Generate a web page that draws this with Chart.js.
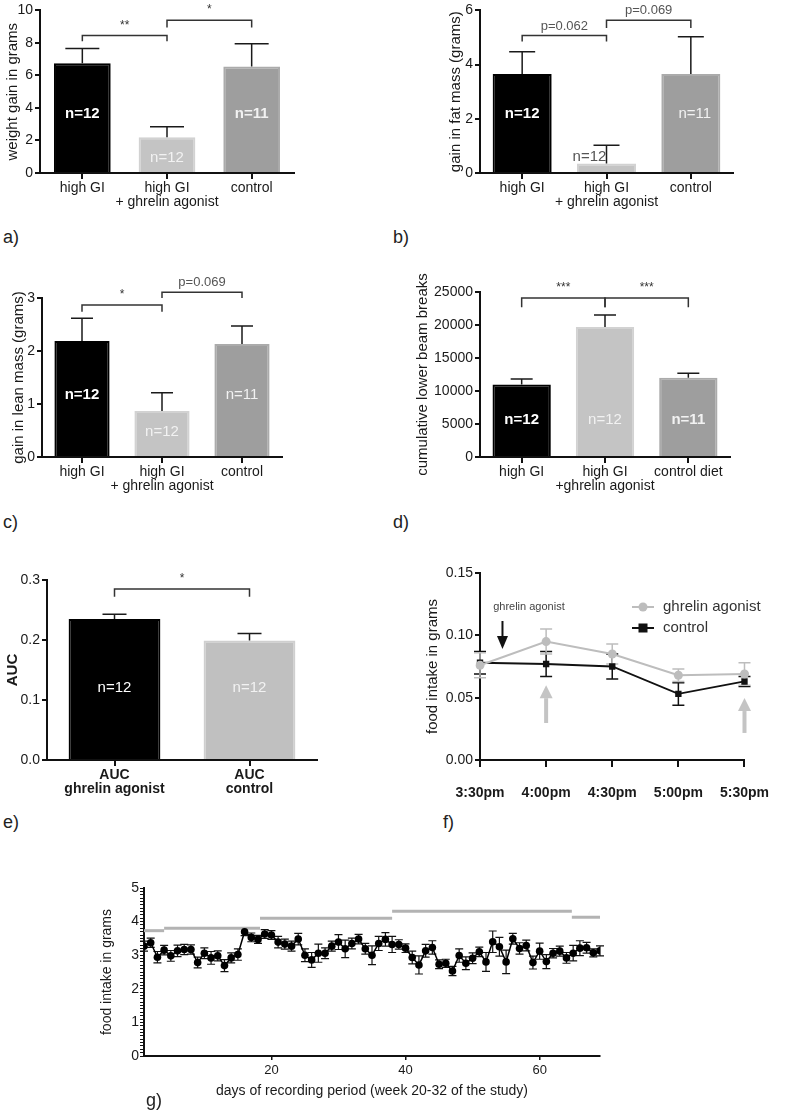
<!DOCTYPE html>
<html>
<head>
<meta charset="utf-8">
<script src="https://cdn.jsdelivr.net/npm/chart.js@4.4.0/dist/chart.umd.min.js"></script>
<style>
  body { margin: 0; background: #fff; width: 787px; height: 1114px; position: relative; overflow: hidden; font-family: "Liberation Sans", Arial, sans-serif; }
  canvas { position: absolute; }
  .tag { position: absolute; font-size: 18px; color: #222; }
</style>
</head>
<body>
<canvas id="ca"></canvas>
<canvas id="cb"></canvas>
<canvas id="cc"></canvas>
<canvas id="cd"></canvas>
<canvas id="ce"></canvas>
<canvas id="cf"></canvas>
<canvas id="cg"></canvas>
<div class="tag" style="left:3px;top:227px">a)</div>
<div class="tag" style="left:393px;top:227px">b)</div>
<div class="tag" style="left:3px;top:512px">c)</div>
<div class="tag" style="left:393px;top:512px">d)</div>
<div class="tag" style="left:3px;top:812px">e)</div>
<div class="tag" style="left:443px;top:812px">f)</div>
<div class="tag" style="left:146px;top:1090px">g)</div>
<script>
// ---- data ----
const groups3 = ['high GI', ['high GI', '+ ghrelin agonist'], 'control'];
const groupsD = ['high GI', ['high GI', '+ghrelin agonist'], 'control diet'];
const groupsE = [['AUC', 'ghrelin agonist'], ['AUC', 'control']];

const weightGain = [6.75, 2.2, 6.55];
const weightGainErr = [0.9, 0.65, 1.4];
const weightTicks = { max: 10, step: 2, digits: 0 };

const fatGain = [3.65, 0.35, 3.65];
const fatGainErr = [0.82, 0.67, 1.38];
const fatTicks = { max: 6, step: 2, digits: 0 };

const leanGain = [2.19, 0.87, 2.13];
const leanGainErr = [0.43, 0.34, 0.34];
const leanTicks = { max: 3, step: 1, digits: 0 };

const beamBreaks = [11000, 19700, 12000];
const beamBreaksErr = [800, 1800, 700];
const beamTicks = { max: 25000, step: 5000, digits: 0 };

const auc = [0.235, 0.199];
const aucErr = [0.008, 0.012];
const aucTicks = { max: 0.3, step: 0.1, digits: 1 };

const nA = ['n=12', 'n=12', 'n=11'];
const nE = ['n=12', 'n=12'];

const times = ['3:30pm', '4:00pm', '4:30pm', '5:00pm', '5:30pm'];
const agonistIntake = [0.076, 0.095, 0.085, 0.068, 0.069];
const agonistErr = [0.010, 0.010, 0.008, 0.005, 0.009];
const controlIntake = [0.078, 0.077, 0.075, 0.053, 0.063];
const controlErr = [0.009, 0.010, 0.010, 0.009, 0.004];
const fTicks = { max: 0.15, step: 0.05 };

const days = [1,2,3,4,5,6,7,8,9,10,11,12,13,14,15,16,17,18,19,20,21,22,23,24,25,26,27,28,29,30,31,32,33,34,35,
  36,37,38,39,40,41,42,43,44,45,46,47,48,49,50,51,52,53,54,55,56,57,58,59,60,61,62,63,64,65,66,67,68,69];
const dailyIntake = [3.27,3.37,2.94,3.15,2.98,3.13,3.17,3.17,2.78,3.06,2.92,2.98,2.69,2.92,3.02,3.70,3.53,3.47,3.63,3.60,
  3.39,3.33,3.27,3.48,3.00,2.86,3.06,3.06,3.27,3.39,3.19,3.35,3.48,3.19,3.00,3.35,3.47,3.32,3.32,3.21,
  2.93,2.71,3.13,3.23,2.73,2.76,2.53,2.99,2.76,2.91,3.10,2.80,3.40,3.25,2.80,3.49,3.20,3.29,2.78,3.12,
  2.81,3.06,3.12,2.92,3.06,3.21,3.22,3.07,3.13];
const dailyErr = [0.15,0.14,0.17,0.14,0.16,0.17,0.15,0.14,0.16,0.16,0.19,0.15,0.18,0.15,0.17,0.12,0.13,0.12,0.13,0.13,
  0.17,0.15,0.15,0.17,0.19,0.22,0.27,0.16,0.15,0.22,0.26,0.16,0.14,0.16,0.28,0.21,0.20,0.24,0.14,0.13,
  0.19,0.27,0.19,0.20,0.13,0.12,0.14,0.20,0.19,0.16,0.14,0.28,0.32,0.28,0.35,0.16,0.17,0.16,0.19,0.24,
  0.21,0.14,0.15,0.16,0.23,0.22,0.16,0.12,0.15];
const segStart = [1, 4, 18.3, 38, 64.8];
const segEnd = [4, 18.3, 38, 64.8, 69];
const segLevel = [3.73, 3.80, 4.10, 4.31, 4.13];
const gXTicks = [20, 40, 60];

// ---- common ----
Chart.defaults.font.family = '"Liberation Sans", Arial, sans-serif';
Chart.defaults.color = '#1a1a1a';
const FONT = '"Liberation Sans", Arial, sans-serif';

function place(id, r) {
  const c = document.getElementById(id);
  c.width = r[2]; c.height = r[3];
  c.style.left = r[0] + 'px'; c.style.top = r[1] + 'px';
  return c;
}
function frame(r, p) {
  return {
    pad: { top: p[1] - r[1], right: r[0] + r[2] - p[2], left: 0, bottom: 0 },
    yW: p[0] - r[0],
    xH: r[1] + r[3] - p[3]
  };
}

function drawBracket(ctx, x1, x2, yl, yd, text) {
  ctx.strokeStyle = '#333'; ctx.lineWidth = 1.5;
  ctx.beginPath();
  ctx.moveTo(x1, yd); ctx.lineTo(x1, yl); ctx.lineTo(x2, yl); ctx.lineTo(x2, yd);
  ctx.stroke();
  const isP = text.startsWith('p');
  ctx.font = (isP ? '13px ' : '12px ') + FONT;
  ctx.fillStyle = isP ? '#555' : '#333';
  ctx.textAlign = 'center'; ctx.textBaseline = 'bottom';
  ctx.fillText(text, (x1 + x2) / 2, yl - (isP ? 3 : 4));
}

function barMarks(p) {
  return {
    id: 'barMarks',
    afterDatasetsDraw(chart) {
      const { ctx, scales: { x, y } } = chart;
      ctx.save();
      ctx.strokeStyle = '#1a1a1a'; ctx.lineWidth = 1.5;
      p.means.forEach((m, i) => {
        const cx = x.getPixelForValue(i);
        const top = y.getPixelForValue(m), hi = y.getPixelForValue(m + p.errs[i]);
        ctx.beginPath();
        ctx.moveTo(cx, top); ctx.lineTo(cx, hi);
        ctx.moveTo(cx - p.cap, hi); ctx.lineTo(cx + p.cap, hi);
        ctx.stroke();
      });
      ctx.textAlign = 'center'; ctx.textBaseline = 'middle';
      p.nText.forEach((t, i) => {
        ctx.font = (p.nBold[i] ? 'bold ' : '') + '15px ' + FONT;
        ctx.fillStyle = p.nColor[i];
        ctx.fillText(t, x.getPixelForValue(i) + (p.nShift ? p.nShift[i] : 0), y.getPixelForValue(p.nY[i]));
      });
      p.brackets.forEach(b => {
        drawBracket(ctx, x.getPixelForValue(b.from), x.getPixelForValue(b.to),
          y.getPixelForValue(b.y), y.getPixelForValue(b.drop), b.text);
      });
      ctx.restore();
    }
  };
}

function barPanel(id, rect, plot, p) {
  const fr = frame(rect, plot);
  const tickFont = { size: 14, weight: p.boldTicks ? 'bold' : 'normal', lineHeight: 1.0 };
  new Chart(place(id, rect), {
    type: 'bar',
    data: {
      labels: p.labels,
      datasets: [{
        data: p.means,
        backgroundColor: p.colors,
        borderColor: p.borders,
        borderWidth: 2,
        barPercentage: p.barPct,
        categoryPercentage: 1
      }]
    },
    options: {
      responsive: false, animation: false, events: [],
      layout: { autoPadding: false, padding: fr.pad },
      plugins: { legend: { display: false }, tooltip: { enabled: false } },
      scales: {
        x: {
          grid: { drawOnChartArea: false, offset: false, tickLength: 6, color: '#111', lineWidth: 2 },
          border: { color: '#111', width: 2 },
          ticks: { color: '#1a1a1a', font: tickFont, padding: 2, maxRotation: 0, autoSkip: false },
          afterFit: s => { s.height = fr.xH; }
        },
        y: {
          min: 0, max: p.ticks.max,
          ticks: { stepSize: p.ticks.step, color: '#1a1a1a', font: { size: 14 }, padding: 2,
            callback: v => v.toFixed(p.ticks.digits) },
          grid: { drawOnChartArea: false, tickLength: 5, color: '#111', lineWidth: 2 },
          border: { color: '#111', width: 2 },
          title: { display: true, text: p.title, color: '#1a1a1a', font: { size: 15, weight: p.boldTitle ? 'bold' : 'normal' } },
          afterFit: s => { s.width = fr.yW; }
        }
      }
    },
    plugins: [barMarks(p)]
  });
}

const col3 = ['#000', '#c4c4c4', '#9e9e9e'];
const bor3 = ['#000', '#d2d2d2', '#ababab'];

// a)
barPanel('ca', [0, 0, 300, 215], [40, 6, 294, 173], {
  labels: groups3, means: weightGain, errs: weightGainErr, ticks: weightTicks,
  title: 'weight gain in grams', colors: col3, borders: bor3, barPct: 0.67, cap: 17,
  nText: nA, nY: [3.65, 0.95, 3.65], nBold: [true, false, true], nColor: ['#fff', '#f2f2f2', '#f2f2f2'],
  brackets: [{ from: 0, to: 1, y: 8.45, drop: 8.1, text: '**' }, { from: 1, to: 2, y: 9.4, drop: 8.95, text: '*' }]
});

// b)
barPanel('cb', [443, 0, 300, 215], [480, 6, 733, 173], {
  labels: groups3, means: fatGain, errs: fatGainErr, ticks: fatTicks,
  title: 'gain in fat mass (grams)', colors: col3, borders: bor3, barPct: 0.70, cap: 13,
  nText: nA, nY: [2.19, 0.6, 2.2], nBold: [true, false, false], nColor: ['#fff', '#555', '#f2f2f2'], nShift: [0, -17, 4],
  brackets: [{ from: 0, to: 1, y: 5.07, drop: 4.85, text: 'p=0.062' }, { from: 1, to: 2, y: 5.64, drop: 5.35, text: 'p=0.069' }]
});

// c)
barPanel('cc', [6, 265, 285, 234], [42, 298, 282, 457], {
  labels: groups3, means: leanGain, errs: leanGainErr, ticks: leanTicks,
  title: 'gain in lean mass (grams)', colors: col3, borders: bor3, barPct: 0.69, cap: 11,
  nText: nA, nY: [1.17, 0.47, 1.17], nBold: [true, false, false], nColor: ['#fff', '#f2f2f2', '#f2f2f2'],
  brackets: [{ from: 0, to: 1, y: 2.87, drop: 2.74, text: '*' }, { from: 1, to: 2, y: 3.11, drop: 3.0, text: 'p=0.069' }]
});

// d)
barPanel('cd', [410, 265, 330, 234], [480, 292, 730, 457], {
  labels: groupsD, means: beamBreaks, errs: beamBreaksErr, ticks: beamTicks,
  title: 'cumulative lower beam breaks', colors: col3, borders: bor3, barPct: 0.70, cap: 11,
  nText: nA, nY: [5600, 5600, 5600], nBold: [true, false, true], nColor: ['#fff', '#f2f2f2', '#f2f2f2'],
  brackets: [{ from: 0, to: 1, y: 24100, drop: 22700, text: '***' }, { from: 1, to: 2, y: 24100, drop: 22700, text: '***' }]
});

// e)
barPanel('ce', [0, 560, 330, 250], [47, 580, 317, 760], {
  labels: groupsE, means: auc, errs: aucErr, ticks: aucTicks, boldTicks: true, boldTitle: true,
  title: 'AUC', colors: ['#000', '#c0c0c0'], borders: ['#000', '#cfcfcf'], barPct: 0.68, cap: 12,
  nText: nE, nY: [0.12, 0.12], nBold: [false, false], nColor: ['#fff', '#f2f2f2'],
  brackets: [{ from: 0, to: 1, y: 0.285, drop: 0.272, text: '*' }]
});

// f)
const fArrows = [
  { x: 0.34, from: 0.1115, to: 0.089, color: '#111', shaft: 2, head: 11 },
  { x: 1, from: 0.0297, to: 0.060, color: '#c4c4c4', shaft: 4, head: 13 },
  { x: 4, from: 0.0217, to: 0.0497, color: '#c4c4c4', shaft: 4, head: 13 }
];
const fNote = { x: 0.74, y: 0.1227, text: 'ghrelin agonist' };

function drawArrow(ctx, x, y0, y1, a) {
  const dir = Math.sign(y1 - y0), hl = 13;
  ctx.strokeStyle = a.color; ctx.fillStyle = a.color; ctx.lineWidth = a.shaft;
  ctx.beginPath(); ctx.moveTo(x, y0); ctx.lineTo(x, y1 - dir * hl); ctx.stroke();
  ctx.beginPath();
  ctx.moveTo(x - a.head / 2, y1 - dir * hl); ctx.lineTo(x + a.head / 2, y1 - dir * hl); ctx.lineTo(x, y1);
  ctx.closePath(); ctx.fill();
}

const fMarks = {
  id: 'fMarks',
  beforeDatasetsDraw(chart) {
    const { ctx, scales: { x, y } } = chart;
    ctx.save();
    [[controlIntake, controlErr, '#111'], [agonistIntake, agonistErr, '#bdbdbd']].forEach(([v, e, c]) => {
      ctx.strokeStyle = c; ctx.lineWidth = 1.5;
      v.forEach((m, i) => {
        const cx = x.getPixelForValue(i), lo = y.getPixelForValue(m - e[i]), hi = y.getPixelForValue(m + e[i]);
        ctx.beginPath();
        ctx.moveTo(cx, lo); ctx.lineTo(cx, hi);
        ctx.moveTo(cx - 6, lo); ctx.lineTo(cx + 6, lo);
        ctx.moveTo(cx - 6, hi); ctx.lineTo(cx + 6, hi);
        ctx.stroke();
      });
    });
    ctx.restore();
  },
  afterDatasetsDraw(chart) {
    const { ctx, chartArea: ca, scales: { x, y } } = chart;
    ctx.save();
    fArrows.forEach(a => drawArrow(ctx, x.getPixelForValue(a.x), y.getPixelForValue(a.from), y.getPixelForValue(a.to), a));
    ctx.font = '11px ' + FONT; ctx.fillStyle = '#444'; ctx.textAlign = 'center'; ctx.textBaseline = 'middle';
    ctx.fillText(fNote.text, x.getPixelForValue(fNote.x), y.getPixelForValue(fNote.y));
    // legend
    chart.data.datasets.forEach((ds, i) => {
      const ly = ca.top + 34 + i * 21, lx = ca.left + 152;
      ctx.strokeStyle = ds.borderColor; ctx.lineWidth = 2;
      ctx.beginPath(); ctx.moveTo(lx, ly); ctx.lineTo(lx + 22, ly); ctx.stroke();
      ctx.fillStyle = ds.borderColor;
      if (ds.pointStyle === 'rect') ctx.fillRect(lx + 11 - 4.5, ly - 4.5, 9, 9);
      else { ctx.beginPath(); ctx.arc(lx + 11, ly, 4.5, 0, Math.PI * 2); ctx.fill(); }
      ctx.font = '15px ' + FONT; ctx.fillStyle = '#333'; ctx.textAlign = 'left';
      ctx.fillText(ds.label, lx + 31, ly);
    });
    ctx.restore();
  }
};

(function () {
  const rect = [420, 560, 367, 250], fr = frame(rect, [480, 573, 762, 760]);
  new Chart(place('cf', rect), {
    type: 'line',
    data: {
      labels: times,
      datasets: [
        { label: 'ghrelin agonist', data: agonistIntake, borderColor: '#bdbdbd', backgroundColor: '#bdbdbd',
          pointStyle: 'circle', pointRadius: 4.5, pointBorderWidth: 0, borderWidth: 2, tension: 0 },
        { label: 'control', data: controlIntake, borderColor: '#111', backgroundColor: '#111',
          pointStyle: 'rect', pointRadius: 4.5, pointBorderWidth: 0, borderWidth: 1.8, tension: 0 }
      ]
    },
    options: {
      responsive: false, animation: false, events: [],
      layout: { autoPadding: false, padding: fr.pad },
      plugins: { legend: { display: false }, tooltip: { enabled: false } },
      scales: {
        x: {
          offset: false,
          grid: { drawOnChartArea: false, tickLength: 7, color: '#111', lineWidth: 2 },
          border: { color: '#111', width: 2 },
          ticks: { color: '#1a1a1a', font: { size: 14, weight: 'bold' }, padding: 18, maxRotation: 0, autoSkip: false },
          afterFit: s => { s.height = fr.xH; }
        },
        y: {
          min: 0, max: fTicks.max,
          ticks: { stepSize: fTicks.step, color: '#1a1a1a', font: { size: 14 }, padding: 2, callback: v => v.toFixed(2) },
          grid: { drawOnChartArea: false, tickLength: 5, color: '#111', lineWidth: 2 },
          border: { color: '#111', width: 2 },
          title: { display: true, text: 'food intake in grams', color: '#1a1a1a', font: { size: 15 } },
          afterFit: s => { s.width = fr.yW; }
        }
      }
    },
    plugins: [fMarks]
  });
})();

// g)
const gMarks = {
  id: 'gMarks',
  beforeDatasetsDraw(chart) {
    const { ctx, scales: { x, y } } = chart;
    ctx.save();
    ctx.strokeStyle = '#111'; ctx.lineWidth = 1.2;
    dailyIntake.forEach((m, i) => {
      const cx = x.getPixelForValue(days[i]), lo = y.getPixelForValue(m - dailyErr[i]), hi = y.getPixelForValue(m + dailyErr[i]);
      ctx.beginPath();
      ctx.moveTo(cx, lo); ctx.lineTo(cx, hi);
      ctx.moveTo(cx - 4, lo); ctx.lineTo(cx + 4, lo);
      ctx.moveTo(cx - 4, hi); ctx.lineTo(cx + 4, hi);
      ctx.stroke();
    });
    ctx.restore();
  }
};

(function () {
  const rect = [95, 870, 530, 232], fr = frame(rect, [144, 888, 600, 1056]);
  const segs = segStart.map((s, i) => ({
    data: [{ x: s, y: segLevel[i] }, { x: segEnd[i], y: segLevel[i] }],
    borderColor: '#b3b3b3', borderWidth: 3, pointRadius: 0, tension: 0
  }));
  new Chart(place('cg', rect), {
    type: 'line',
    data: {
      datasets: [
        { data: days.map((d, i) => ({ x: d, y: dailyIntake[i] })), borderColor: '#000', backgroundColor: '#000',
          borderWidth: 1.5, pointRadius: 3.8, pointBorderWidth: 0, tension: 0 },
        ...segs
      ]
    },
    options: {
      responsive: false, animation: false, events: [],
      layout: { autoPadding: false, padding: fr.pad },
      plugins: { legend: { display: false }, tooltip: { enabled: false } },
      scales: {
        x: {
          type: 'linear', min: 1, max: 69,
          afterBuildTicks: s => { s.ticks = gXTicks.map(v => ({ value: v })); },
          grid: { drawOnChartArea: false, tickLength: 4, color: '#111', lineWidth: 1.5 },
          border: { color: '#111', width: 2 },
          ticks: { color: '#1a1a1a', font: { size: 13 }, padding: 3, maxRotation: 0 },
          title: { display: true, text: 'days of recording period (week 20-32 of the study)', color: '#1a1a1a', font: { size: 14 }, padding: 2 },
          afterFit: s => { s.height = fr.xH; }
        },
        y: {
          min: 0, max: 5,
          ticks: { stepSize: 0.1, autoSkip: false, color: '#1a1a1a', font: { size: 14 }, padding: 1,
            callback: v => Math.abs(v - Math.round(v)) < 1e-6 ? String(Math.round(v)) : '' },
          grid: { drawOnChartArea: false, tickLength: 4, color: '#111', lineWidth: 1 },
          border: { color: '#111', width: 2 },
          title: { display: true, text: 'food intake in grams', color: '#1a1a1a', font: { size: 14 } },
          afterFit: s => { s.width = fr.yW; }
        }
      }
    },
    plugins: [gMarks]
  });
})();
</script>
</body>
</html>
